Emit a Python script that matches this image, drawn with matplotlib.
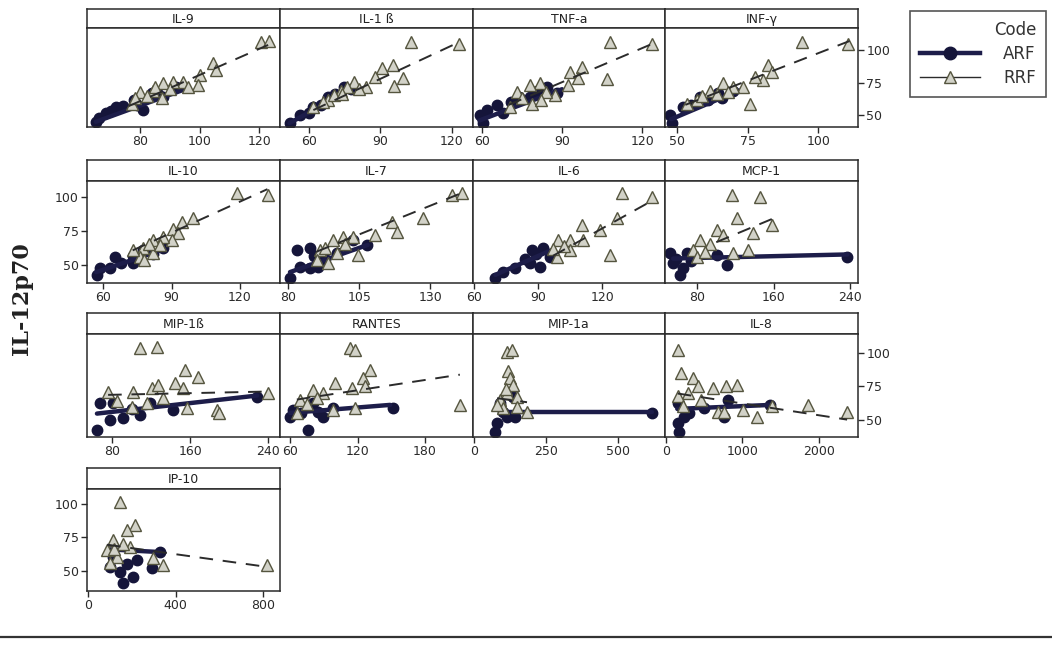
import matplotlib
matplotlib.use("Agg")
import matplotlib.pyplot as plt
from matplotlib.lines import Line2D

# IL-12p70 against each cytokine, ARF (circles) and RRF (triangles)
il9_arf_x = [65, 66, 68.3, 71.7, 74, 77.7, 81, 84, 87.7, 92, 70, 79, 86]
il9_arf_y = [44.6, 48, 51.5, 56, 57, 61.5, 54, 67, 64, 71.5, 53, 58, 66]
il9_rrf_x = [120.7, 123.3, 104.3, 105.6, 100, 99.3, 94.3, 91, 87.7, 80, 77.3, 87.3, 84.3, 82.3, 90, 96, 78, 85]
il9_rrf_y = [106, 107, 90, 84.6, 80.8, 73, 75.4, 75.4, 75, 67.7, 59, 63, 69, 65, 70, 72, 63, 72]
il9_arf_fit = [(65, 45), (95, 70)]
il9_rrf_fit = [(76, 57), (123, 104)]

il1b_arf_x = [52.4, 56.6, 62, 65, 68, 74.7, 78, 60, 71]
il1b_arf_y = [43.8, 50, 56, 58, 64, 71.5, 70, 52, 66]
il1b_rrf_x = [102.9, 123, 95.3, 91, 88, 99.5, 95.7, 84, 79, 73.4, 68, 62, 70.5, 76, 81, 66, 74]
il1b_rrf_y = [106, 105, 88.5, 86, 79, 78.5, 72.3, 71.5, 75.4, 69, 61.5, 56, 65.4, 72, 70, 60, 66]
il1b_arf_fit = [(52, 44), (78, 70)]
il1b_rrf_fit = [(62, 54), (123, 106)]

tnfa_arf_x = [60.4, 59.3, 65.6, 68, 74, 80.6, 88, 84.4, 62, 71, 78]
tnfa_arf_y = [43.8, 50, 57.7, 51.5, 64, 69, 67, 71.5, 54, 60, 64]
tnfa_rrf_x = [108, 123.7, 106.9, 97.5, 93, 92.3, 96, 87.4, 81.7, 78, 73, 70.5, 78.7, 84, 75, 82]
tnfa_rrf_y = [106, 105, 77.7, 87, 83, 73, 78.5, 65.4, 74.6, 73, 67.7, 56, 59, 68, 63, 62]
tnfa_arf_fit = [(59, 46), (90, 70)]
tnfa_rrf_fit = [(70, 58), (124, 105)]

infg_arf_x = [48.2, 47.5, 52, 58, 64.5, 69.8, 55, 61, 66]
infg_arf_y = [43.8, 50, 56, 64, 67, 69, 58, 62, 63]
infg_rrf_x = [94.3, 110.3, 75.9, 82.3, 83.7, 80.5, 77.7, 73.4, 66.3, 61.7, 57, 53.5, 70, 64, 59, 68]
infg_rrf_y = [106, 105, 59, 88.5, 83, 77, 79, 71.5, 74.6, 69, 61.5, 59, 72, 66, 65, 68]
infg_arf_fit = [(48, 47), (72, 69)]
infg_rrf_fit = [(53, 58), (111, 107)]

il10_arf_x = [57.4, 65.3, 63, 58.7, 73.2, 77.5, 86.3, 73.2, 68, 82]
il10_arf_y = [42.6, 56, 47.8, 47.8, 51.5, 61, 62.5, 57, 52, 58]
il10_rrf_x = [118.8, 132.4, 99.5, 94.6, 90.7, 93, 90.3, 86.3, 82, 77.5, 76.2, 82, 73.2, 80, 85, 78]
il10_rrf_y = [103, 101.5, 84.5, 81.6, 77, 74, 68.4, 70.6, 68.4, 63, 56, 58.8, 61, 66, 65, 54]
il10_arf_fit = [(57, 45), (87, 62)]
il10_rrf_fit = [(73, 61), (132, 106)]

il7_arf_x = [80.7, 84.2, 87.7, 90.6, 83.2, 87.7, 97.2, 107.8, 103, 93, 89]
il7_arf_y = [41, 48.5, 47.8, 48.5, 61, 63, 58.8, 64.7, 68.4, 55, 57]
il7_rrf_x = [137.7, 141.3, 127.5, 116.6, 118.4, 110.6, 104.6, 103, 99.4, 95.8, 91.3, 97.2, 94, 90.2, 100, 93]
il7_rrf_y = [101.5, 103, 84.5, 81.6, 74.3, 72, 57.4, 70.6, 70.6, 68.4, 61, 58.8, 51.5, 53.7, 66, 63]
il7_arf_fit = [(80.7, 45), (108, 65)]
il7_rrf_fit = [(90, 60), (142, 104)]

il6_arf_x = [69.9, 79.2, 91, 87.2, 92.4, 95.7, 73.6, 84, 89, 86]
il6_arf_y = [41, 47.8, 48.5, 61, 63, 56, 45, 55, 58, 52]
il6_rrf_x = [129.5, 143.6, 127, 110.7, 119.2, 123.8, 111.2, 105, 99.5, 98.8, 105, 102, 97]
il6_rrf_y = [103, 100, 84.5, 79.4, 75.7, 57.4, 68.4, 68.4, 68.4, 56, 61, 64, 62]
il6_arf_fit = [(70, 43), (96, 61)]
il6_rrf_fit = [(97, 57), (144, 98)]

mcp1_arf_x = [55, 62, 52, 69.5, 101, 111, 237, 65, 58, 74]
mcp1_arf_y = [51.5, 42.6, 58.8, 58.8, 57.4, 50, 56, 47.8, 55, 53]
mcp1_rrf_x = [116.6, 146, 121.8, 101, 158.5, 138.6, 133, 117.6, 107, 83, 76, 93.6, 80, 88]
mcp1_rrf_y = [101.5, 100, 84.5, 75.7, 79.4, 74, 61, 58.8, 72, 68.4, 61, 66, 56, 60]
mcp1_arf_fit = [(55, 55), (237, 58)]
mcp1_rrf_fit = [(100, 67), (158, 84)]

mip1b_arf_x = [64.6, 78, 91.3, 108.7, 142.6, 228.7, 81, 119, 67.7, 100]
mip1b_arf_y = [42.5, 50, 51.5, 53.7, 57.5, 67, 62.7, 62.7, 62.7, 58]
mip1b_rrf_x = [108.7, 126, 155, 168, 144.6, 152.8, 121, 127.2, 101.5, 76, 157, 187.7, 240, 100.5, 116, 132.3, 190, 85]
mip1b_rrf_y = [103.7, 104.5, 87.3, 82, 77.6, 74, 74, 76, 71, 71, 59, 57.5, 70, 59.7, 62.7, 66.4, 55, 64]
mip1b_arf_fit = [(64.6, 54.5), (228.7, 68)]
mip1b_rrf_fit = [(76, 68.5), (240, 71)]

rantes_arf_x = [60, 76, 62.7, 89.3, 151.6, 98, 80.4, 70, 85]
rantes_arf_y = [52, 42.5, 57.5, 52, 59, 59, 62.7, 55, 56]
rantes_rrf_x = [113.3, 117.8, 131, 125, 100, 115, 126.7, 211, 80.4, 89.3, 117.8, 69, 66, 98, 75, 84]
rantes_rrf_y = [103.7, 102, 87.3, 81, 77.6, 74, 75, 61, 72.4, 70, 59, 65, 55, 57.5, 62, 66]
rantes_arf_fit = [(60, 55), (149, 61)]
rantes_rrf_fit = [(66, 65), (211, 83.6)]

mip1a_arf_x = [73, 80, 114.6, 142, 618, 90, 135, 100]
mip1a_arf_y = [41, 47.8, 52, 52, 55, 62.7, 67, 56]
mip1a_rrf_x = [114.6, 132, 118, 125, 135, 114.6, 149, 90, 184, 100, 149, 80, 110]
mip1a_rrf_y = [100.7, 102, 86, 81, 76, 70, 67, 65, 56, 59, 59.7, 61, 73]
mip1a_arf_fit = [(100, 56), (618, 56)]
mip1a_rrf_fit = [(80, 66), (184, 63)]

il8_arf_x = [169, 156, 234, 753, 494, 805, 1364, 156, 300]
il8_arf_y = [41, 47.8, 52, 52, 59, 65, 61, 62.7, 55]
il8_rrf_x = [156, 195, 351, 416, 610, 779, 935, 1013, 1195, 1857, 2364, 1390, 675, 753, 286, 156, 455, 220]
il8_rrf_y = [102, 85, 81, 75, 73.8, 75, 75.6, 57.5, 52, 61, 56, 60, 56, 56, 70, 67.5, 65, 60]
il8_arf_fit = [(150, 58), (1370, 61)]
il8_rrf_fit = [(156, 69.5), (2364, 50)]

ip10_arf_x = [160, 205, 292, 329, 100, 146, 114, 224, 180]
ip10_arf_y = [41, 45.5, 52, 64, 53, 49, 60.5, 58.2, 55]
ip10_rrf_x = [146, 215, 178, 817, 343, 297, 114, 87, 132, 192, 100, 160, 120]
ip10_rrf_y = [101.5, 84.3, 80.6, 54.5, 54.5, 59.7, 73, 65.7, 60.5, 68, 56, 70, 66]
ip10_arf_fit = [(100, 66), (330, 64)]
ip10_rrf_fit = [(87, 69.5), (817, 53)]

panel_names = ["IL-9", "IL-1 ß", "TNF-a", "INF-γ", "IL-10", "IL-7", "IL-6", "MCP-1",
               "MIP-1ß", "RANTES", "MIP-1a", "IL-8", "IP-10"]
panel_ticks = [[80, 100, 120], [60, 90, 120], [60, 90, 120], [50, 75, 100],
               [60, 90, 120], [80, 105, 130], [60, 90, 120], [80, 160, 240],
               [80, 160, 240], [60, 120, 180], [0, 250, 500], [0, 1000, 2000],
               [0, 400, 800]]
y_ticks = [50, 75, 100]

panel_data = [
    (il9_arf_x, il9_arf_y, il9_rrf_x, il9_rrf_y, il9_arf_fit, il9_rrf_fit),
    (il1b_arf_x, il1b_arf_y, il1b_rrf_x, il1b_rrf_y, il1b_arf_fit, il1b_rrf_fit),
    (tnfa_arf_x, tnfa_arf_y, tnfa_rrf_x, tnfa_rrf_y, tnfa_arf_fit, tnfa_rrf_fit),
    (infg_arf_x, infg_arf_y, infg_rrf_x, infg_rrf_y, infg_arf_fit, infg_rrf_fit),
    (il10_arf_x, il10_arf_y, il10_rrf_x, il10_rrf_y, il10_arf_fit, il10_rrf_fit),
    (il7_arf_x, il7_arf_y, il7_rrf_x, il7_rrf_y, il7_arf_fit, il7_rrf_fit),
    (il6_arf_x, il6_arf_y, il6_rrf_x, il6_rrf_y, il6_arf_fit, il6_rrf_fit),
    (mcp1_arf_x, mcp1_arf_y, mcp1_rrf_x, mcp1_rrf_y, mcp1_arf_fit, mcp1_rrf_fit),
    (mip1b_arf_x, mip1b_arf_y, mip1b_rrf_x, mip1b_rrf_y, mip1b_arf_fit, mip1b_rrf_fit),
    (rantes_arf_x, rantes_arf_y, rantes_rrf_x, rantes_rrf_y, rantes_arf_fit, rantes_rrf_fit),
    (mip1a_arf_x, mip1a_arf_y, mip1a_rrf_x, mip1a_rrf_y, mip1a_arf_fit, mip1a_rrf_fit),
    (il8_arf_x, il8_arf_y, il8_rrf_x, il8_rrf_y, il8_arf_fit, il8_rrf_fit),
    (ip10_arf_x, ip10_arf_y, ip10_rrf_x, ip10_rrf_y, ip10_arf_fit, ip10_rrf_fit),
]

# layout (pixels of the 1052x651 canvas)
W, H = 1052, 651
col_edges = [87, 280, 473, 665, 858]
rows = [(9, 28, 127), (160, 181, 283), (313, 334, 437), (468, 489, 591)]
row_ylim = [(41, 117), (37, 112), (37, 114), (35, 111)]
panel_xlim = [(62, 127), (48, 129), (56.6, 128.6), (45.8, 114), (53, 137.5), (77.2, 145),
              (59.5, 149.5), (46.5, 248), (54.4, 252), (51, 222.7), (-3.5, 663),
              (-10, 2506), (-5, 878)]

ARF_COL = "#15153a"
RRF_FACE = "#d2d2c8"
RRF_EDGE = "#55553f"
FRAME = "#2a2a2a"

plt.rcParams["font.family"] = ["DejaVu Sans"]
fig = plt.figure(figsize=(W / 100, H / 100), dpi=100)


def box(x0, x1, top, bottom):
    return [x0 / W, 1 - bottom / H, (x1 - x0) / W, (bottom - top) / H]


for i, name in enumerate(panel_names):
    r, c = divmod(i, 4)
    s_top, p_top, p_bot = rows[r]
    x0, x1 = col_edges[c], col_edges[c + 1]

    strip = fig.add_axes(box(x0, x1, s_top, p_top))
    strip.set_xticks([])
    strip.set_yticks([])
    for sp in strip.spines.values():
        sp.set_linewidth(1.1)
        sp.set_color(FRAME)
    strip.text(0.5, 0.45, name, ha="center", va="center", fontsize=9, color="#222222")

    ax = fig.add_axes(box(x0, x1, p_top, p_bot))
    ax_x, ax_y, rr_x, rr_y, a_fit, r_fit = panel_data[i]
    ax.plot(ax_x, ax_y, "o", ms=7.5, color=ARF_COL, zorder=2)
    ax.plot([p[0] for p in a_fit], [p[1] for p in a_fit], "-", lw=3.2, color="#1d1d4a",
            solid_capstyle="round", zorder=3)
    ax.plot(rr_x, rr_y, "^", ms=8.5, mfc=RRF_FACE, mec=RRF_EDGE, mew=1.0, zorder=4)
    ax.plot([p[0] for p in r_fit], [p[1] for p in r_fit], "--", lw=1.4, color="#2b2b2b",
            dashes=(7, 5), zorder=5)

    ax.set_xlim(panel_xlim[i])
    ax.set_ylim(row_ylim[r])
    ax.set_xticks(panel_ticks[i])
    ax.tick_params(axis="x", direction="out", length=4, width=1, labelsize=9, pad=2,
                   colors=FRAME)
    for sp in ax.spines.values():
        sp.set_linewidth(1.1)
        sp.set_color(FRAME)

    # y ticks alternate: right side on rows 1 and 3, left side on rows 2 and 4
    if r % 2 == 0 and c == 3:
        ax.yaxis.tick_right()
        ax.set_yticks(y_ticks)
    elif r % 2 == 1 and c == 0:
        ax.set_yticks(y_ticks)
    else:
        ax.set_yticks([])
    ax.tick_params(axis="y", direction="out", length=4, width=1, labelsize=9, pad=2,
                   colors=FRAME)

fig.text(22 / W, 1 - 299 / H, "IL-12p70", rotation=90, ha="center", va="center",
         fontsize=16, fontweight="bold", family="DejaVu Serif", color="#222222")

handles = [
    Line2D([], [], color="#1d1d4a", lw=3.2, marker="o", ms=9, mfc=ARF_COL, mec=ARF_COL),
    Line2D([], [], color="#2b2b2b", lw=1.0, marker="^", ms=8, mfc=RRF_FACE, mec=RRF_EDGE),
]
leg = fig.legend(handles, ["ARF", "RRF"], title="Code", loc="upper left",
                 bbox_to_anchor=(910 / W, 1 - 11 / H), frameon=True, fancybox=False,
                 edgecolor=FRAME, fontsize=12, title_fontsize=12, handlelength=3.6,
                 borderaxespad=0, alignment="right", labelspacing=0.35, borderpad=0.6,
                 handletextpad=1.4)
leg.get_frame().set_linewidth(1.2)
for t in leg.get_texts():
    t.set_color("#333333")
leg.get_title().set_color("#333333")

fig.add_artist(Line2D([0, 1], [1 - 637 / H, 1 - 637 / H], color="#333333", lw=1.6))

fig.savefig("out.png", dpi=100)
